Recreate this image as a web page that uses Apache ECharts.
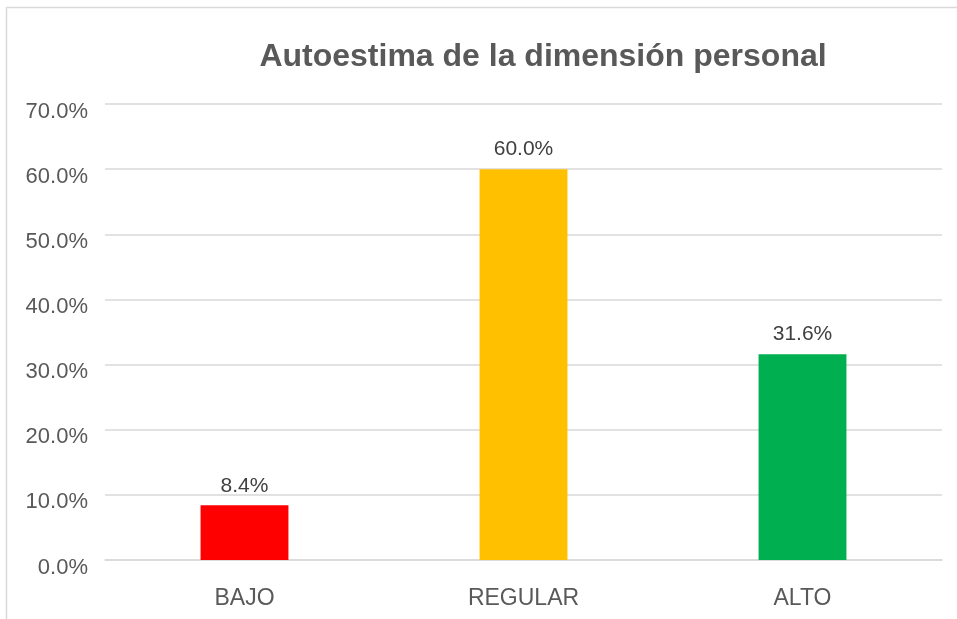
<!DOCTYPE html>
<html lang="es">
<head>
    <meta charset="UTF-8">
    <title>Autoestima de la dimensión personal</title>
    <script type="text/javascript" src="https://cdn.jsdelivr.net/npm/echarts@6/dist/echarts.min.js"></script>
    <style type="text/css">
        html, body { margin: 0; padding: 0; background: #fff; }
        #chart { width: 957px; height: 619px; }
    </style>
</head>
<body>
<div id="chart"></div>
<script type="text/javascript">
    // datos
    var categories = ['BAJO', 'REGULAR', 'ALTO'];
    var values = [8.4, 60.0, 31.6];
    var barColors = ['#FF0000', '#FFC000', '#00B050'];
    var yTicks = [0, 10, 20, 30, 40, 50, 60, 70];

    var chart = echarts.init(document.getElementById('chart'));
    var font = '"Liberation Sans", Arial, sans-serif';

    var option = {
        animation: false,
        title: {
            text: 'Autoestima de la dimensión personal',
            left: 538,
            textAlign: 'center',
            top: 36,
            textStyle: { fontFamily: font, fontSize: 32, fontWeight: 'bold', color: '#595959' }
        },
        graphic: [{
            type: 'rect',
            shape: { x: 6.5, y: 7.5, width: 1000, height: 700 },
            style: { fill: 'none', stroke: '#d9d9d9', lineWidth: 1.5 },
            silent: true
        }],
        grid: { left: 105, right: 15, top: 104, bottom: 59 },
        xAxis: {
            type: 'category',
            data: categories,
            axisLine: { lineStyle: { color: '#d9d9d9', width: 1.5 } },
            axisTick: { show: false },
            axisLabel: { fontFamily: font, fontSize: 23, color: '#595959', margin: 27 }
        },
        yAxis: {
            type: 'value',
            min: yTicks[0],
            max: yTicks[yTicks.length - 1],
            interval: 10,
            axisLine: { show: false },
            axisTick: { show: false },
            splitLine: { lineStyle: { color: '#d9d9d9', width: 1.5 } },
            axisLabel: {
                fontFamily: font, fontSize: 22, color: '#595959', margin: 17,
                verticalAlign: 'top',
                lineHeight: 15,
                formatter: function (v) { return v.toFixed(1) + '%'; }
            }
        },
        series: [{
            type: 'bar',
            barWidth: '31.5%',
            data: values.map(function (v, i) {
                return { value: v, itemStyle: { color: barColors[i] } };
            }),
            label: {
                show: true,
                position: 'top',
                distance: 9,
                fontFamily: font,
                fontSize: 21,
                color: '#404040',
                formatter: function (p) { return p.value.toFixed(1) + '%'; }
            }
        }]
    };
    chart.setOption(option);
</script>
</body>
</html>
